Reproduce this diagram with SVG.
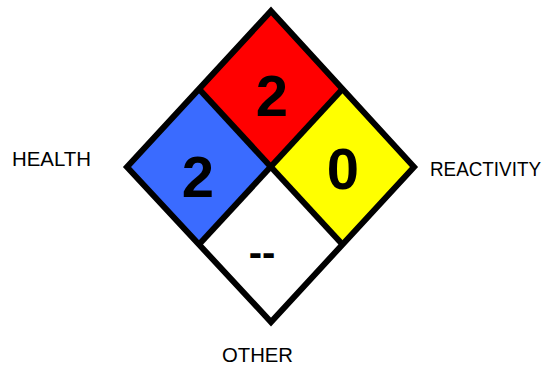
<svg xmlns="http://www.w3.org/2000/svg" width="550" height="366" viewBox="0 0 550 366">
<style>
.edge{fill:none;stroke:#000;stroke-width:6;stroke-linejoin:miter;stroke-miterlimit:10}
.num{font-family:"Liberation Sans",Arial,sans-serif;font-weight:bold;font-size:58px;text-anchor:middle;fill:#000}
.lbl{font-family:"Liberation Sans",Arial,sans-serif;font-size:21px;fill:#000}
</style>
<rect width="550" height="366" fill="#fff"/>
<g id="flammability">
<polygon points="271,11 342.5,89 271,166.5 199,89" fill="#ff0000"/>
<text class="num" x="272" y="116">2</text>
</g>
<g id="health">
<polygon points="199,89 271,166.5 199,244.5 127,167" fill="#3a6bff"/>
<text class="num" x="198" y="197">2</text>
</g>
<g id="reactivity">
<polygon points="342.5,89 414,167 342.5,244.5 271,166.5" fill="#ffff00"/>
<text class="num" x="343" y="189">0</text>
</g>
<g id="other">
<polygon points="271,166.5 342.5,244.5 271,322 199,244.5" fill="#ffffff"/>
<text class="num" x="262" y="266" style="font-size:40px">--</text>
</g>
<g id="connectors">
<polygon class="edge" points="271,11 414,167 271,322 127,167"/>
<line class="edge" x1="199" y1="89" x2="342.5" y2="244.5"/>
<line class="edge" x1="342.5" y1="89" x2="199" y2="244.5"/>
</g>
<g id="labels">
<text class="lbl" x="12" y="166" textLength="79" lengthAdjust="spacingAndGlyphs">HEALTH</text>
<text class="lbl" x="430" y="176" textLength="111" lengthAdjust="spacingAndGlyphs" style="font-size:20px">REACTIVITY</text>
<text class="lbl" x="222" y="362" textLength="71" lengthAdjust="spacingAndGlyphs">OTHER</text>
</g>
</svg>
